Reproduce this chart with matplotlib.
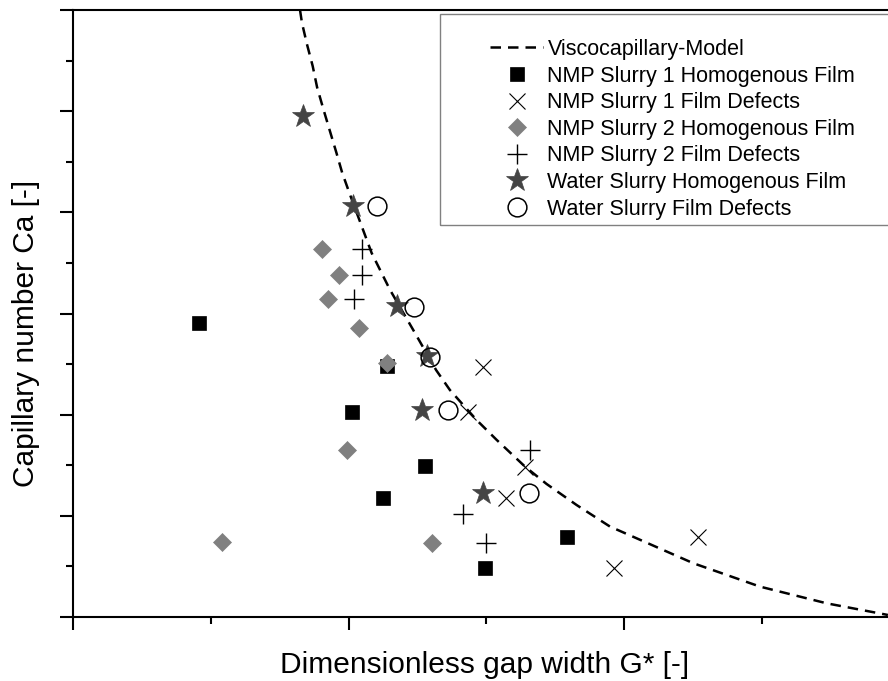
import matplotlib
matplotlib.use("Agg")
import matplotlib.pyplot as plt
from matplotlib.patches import Rectangle
from matplotlib.ticker import MultipleLocator, NullFormatter

plt.rcParams['font.family'] = ['Liberation Sans', 'DejaVu Sans']

# ---- data ----
model_g = [0.824, 0.831, 0.849, 0.870, 0.886, 0.909, 0.935, 0.956, 0.977, 1.005,
           1.084, 1.151, 1.235, 1.318, 1.368, 1.465, 1.538, 1.641, 1.719, 1.828,
           1.949, 2.252, 2.494, 2.736, 2.958]
model_ca = [6.0, 5.874, 5.664, 5.446, 5.236, 5.018, 4.781, 4.590, 4.392, 4.178,
            3.598, 3.232, 2.837, 2.441, 2.244, 1.947, 1.750, 1.486, 1.315, 1.107,
            0.894, 0.531, 0.300, 0.135, 0.020]

nmp1_hom_g = [0.458, 1.012, 1.140, 1.278, 1.124, 1.497, 1.794]
nmp1_hom_ca = [2.903, 2.029, 2.481, 1.493, 1.173, 0.487, 0.788]

nmp1_def_g = [1.489, 1.434, 1.641, 1.572, 1.964, 2.267]
nmp1_def_ca = [2.474, 2.026, 1.486, 1.173, 0.481, 0.788]

nmp2_hom_g = [0.905, 0.966, 0.927, 1.038, 1.141, 0.993, 0.542, 1.304]
nmp2_hom_ca = [3.635, 3.378, 3.143, 2.854, 2.508, 1.651, 0.744, 0.728]

nmp2_def_g = [1.048, 1.048, 1.020, 1.659, 1.417, 1.498]
nmp2_def_ca = [3.635, 3.378, 3.143, 1.651, 1.018, 0.728]

water_hom_g = [0.834, 1.015, 1.175, 1.284, 1.266, 1.489]
water_hom_ca = [4.952, 4.062, 3.074, 2.583, 2.046, 1.229]

water_def_g = [1.102, 1.238, 1.296, 1.362, 1.655]
water_def_ca = [4.062, 3.067, 2.573, 2.046, 1.223]

labels = ["Viscocapillary-Model",
          "NMP Slurry 1 Homogenous Film",
          "NMP Slurry 1 Film Defects",
          "NMP Slurry 2 Homogenous Film",
          "NMP Slurry 2 Film Defects",
          "Water Slurry Homogenous Film",
          "Water Slurry Film Defects"]

W, H = 888, 681
fig = plt.figure(figsize=(W / 100, H / 100), dpi=100)
ax = fig.add_axes([73 / W, (H - 617) / H, 826.5 / W, 607 / H])
ax.set_xlim(0, 3)
ax.set_ylim(0, 6)

dash = (0, (4.2, 2.8))
l_model, = ax.plot(model_g, model_ca, color='black', lw=1.8, linestyle=dash, zorder=2)

l1, = ax.plot(nmp1_hom_g, nmp1_hom_ca, ls='none', marker='s', ms=10,
              color='black', mec='black', mew=0.5, zorder=3)
l2, = ax.plot(nmp1_def_g, nmp1_def_ca, ls='none', marker='x', ms=11.5,
              color='black', mew=0.8, zorder=3)
l3, = ax.plot(nmp2_hom_g, nmp2_hom_ca, ls='none', marker='D', ms=9,
              color='#808080', mec='#808080', mew=0.5, zorder=4)
l4, = ax.plot(nmp2_def_g, nmp2_def_ca, ls='none', marker='+', ms=14,
              color='black', mew=1.0, zorder=3)
l5, = ax.plot(water_hom_g, water_hom_ca, ls='none', marker='*', ms=17,
              color='#444444', mec='#444444', mew=0.5, zorder=3)
l6, = ax.plot(water_def_g, water_def_ca, ls='none', marker='o', ms=13.5,
              mfc='none', mec='black', mew=1.1, zorder=4)

# axes styling
for side in ['left', 'bottom', 'top']:
    ax.spines[side].set_linewidth(1.5)
ax.spines['right'].set_visible(False)
ax.xaxis.set_major_locator(MultipleLocator(1))
ax.xaxis.set_minor_locator(MultipleLocator(0.5))
ax.yaxis.set_major_locator(MultipleLocator(1))
ax.yaxis.set_minor_locator(MultipleLocator(0.5))
ax.xaxis.set_major_formatter(NullFormatter())
ax.yaxis.set_major_formatter(NullFormatter())
ax.tick_params(which='major', direction='out', length=9.5, width=1.5)
ax.tick_params(which='minor', direction='out', length=5, width=1.5)
ax.tick_params(top=False, right=False, which='both')

fig.text(485 / W, (H - 673) / H, "Dimensionless gap width G* [-]",
         ha='center', va='baseline', fontsize=21.5)
fig.text(26 / W, (H - 333) / H, "Capillary number Ca [-]",
         ha='center', va='center', rotation=90, fontsize=21.5)

# legend frame
fig.patches.append(Rectangle((440 / W, (H - 225) / H), 470 / W, 211 / H,
                             transform=fig.transFigure, fill=False,
                             edgecolor='#808080', lw=1.0, zorder=5))

leg = ax.legend([l_model, l1, l2, l3, l4, l5, l6], labels,
                loc='upper left', bbox_to_anchor=(490 / W, (H - 39) / H),
                bbox_transform=fig.transFigure, frameon=False,
                borderpad=0, borderaxespad=0, handlelength=2.47,
                handletextpad=0.2, labelspacing=0.26, fontsize=15.5,
                numpoints=1)

fig.savefig("out.png", dpi=100)
